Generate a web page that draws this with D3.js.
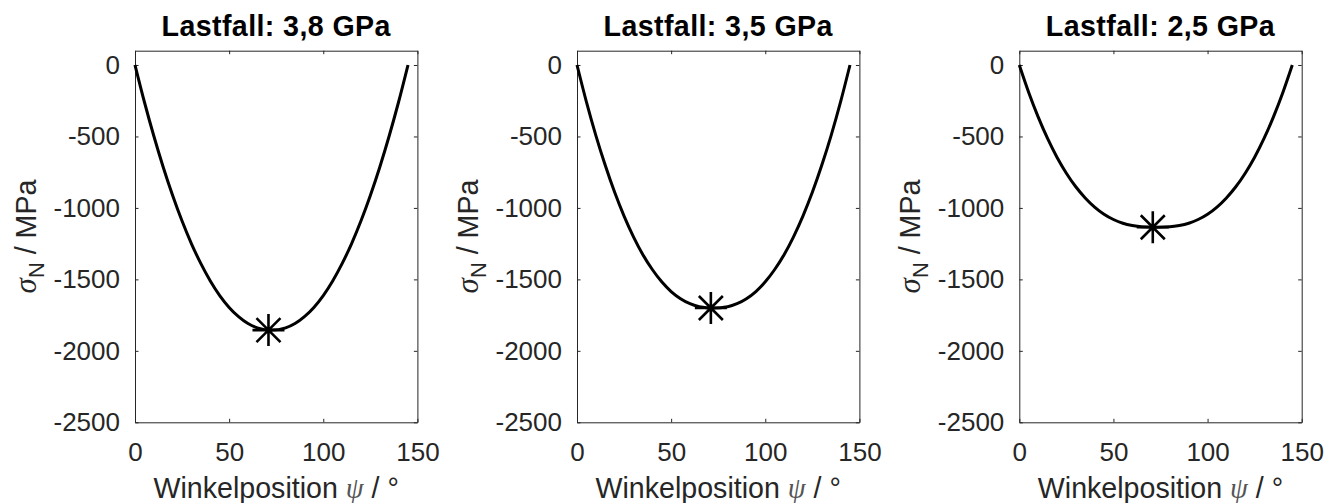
<!DOCTYPE html>
<meta charset="UTF-8">
<style>
  body { margin: 0; background: #fff; }
  text { font-family: "Liberation Sans", Arial, sans-serif; }
</style>
<svg width="1338" height="503"></svg>
<script src="https://cdn.jsdelivr.net/npm/d3@7"></script>
<script>

// load cases (panel titles)
var titles = ["Lastfall: 3,8 GPa", "Lastfall: 3,5 GPa", "Lastfall: 2,5 GPa"];

// angular position psi in deg (same grid for all three cases)
var psi = [0, 5, 10, 15, 20, 25, 30, 35, 40, 45, 50, 55, 60, 65, 72.5,
           80, 85, 90, 95, 100, 105, 110, 115, 120, 125, 130, 135, 140, 145];

// normal stress sigma_N in MPa
var sigma1 = [0, -259, -497, -715, -913, -1092, -1251, -1390, -1511, -1613, -1696, -1761, -1809, -1839, -1855,
              -1839, -1809, -1761, -1696, -1613, -1511, -1390, -1251, -1092, -913, -715, -497, -259, 0];
var sigma2 = [0, -258, -492, -702, -891, -1057, -1202, -1327, -1431, -1517, -1585, -1635, -1670, -1691, -1700,
              -1691, -1670, -1635, -1585, -1517, -1431, -1327, -1202, -1057, -891, -702, -492, -258, 0];
var sigma3 = [0, -192, -363, -514, -645, -757, -852, -930, -994, -1044, -1081, -1107, -1123, -1132, -1135,
              -1132, -1123, -1107, -1081, -1044, -994, -930, -852, -757, -645, -514, -363, -192, 0];

// minimum markers
var starPsi   = [70.9, 71.1, 70.9];
var starSigma = [-1855, -1700, -1135];

var xTicks = [0, 50, 100, 150];
var yTicks = [0, -500, -1000, -1500, -2000, -2500];

var panels = [
  {title: titles[0], sigma: sigma1},
  {title: titles[1], sigma: sigma2},
  {title: titles[2], sigma: sigma3}
];

var svg = d3.select("svg"),
    lefts = [135, 577, 1019.3],
    axTop = 50.7,
    w = 282.4,
    h = 371.6,
    axisColor = "#262626";

function plain(d) { return String(d); }   // keep "-2500", no unicode minus / comma

panels.forEach(function(p, i) {
  var g = svg.append("g").attr("transform", "translate(" + lefts[i] + "," + axTop + ")");

  var x = d3.scaleLinear().domain([0, 150]).range([0, w]);
  var y = d3.scaleLinear().domain([-2500, 100]).range([h, 0]);

  // box + inward ticks, matlab style
  var ax = g.append("g").attr("transform", "translate(0," + h + ")")
      .call(d3.axisBottom(x).tickValues(xTicks).tickFormat(plain).tickSizeInner(-3.5).tickSizeOuter(0).tickPadding(20));
  var ay = g.append("g")
      .call(d3.axisLeft(y).tickValues(yTicks).tickFormat(plain).tickSizeInner(-3.5).tickSizeOuter(0).tickPadding(15));
  g.append("g").call(d3.axisTop(x).tickValues(xTicks).tickSizeInner(-3.5).tickSizeOuter(0).tickFormat(""));
  g.append("g").attr("transform", "translate(" + w + ",0)")
      .call(d3.axisRight(y).tickValues(yTicks).tickSizeInner(-3.5).tickSizeOuter(0).tickFormat(""));

  g.selectAll(".domain, .tick line").attr("stroke", axisColor).attr("stroke-width", 1);
  g.selectAll(".tick text").attr("fill", axisColor).style("font-size", "26px")
      .style("font-family", "'Liberation Sans', Arial, sans-serif");
  ax.selectAll(".tick text").attr("dy", "0.71em");

  // curve
  var line = d3.line()
      .x(function(d, k) { return x(psi[k]); })
      .y(function(d) { return y(d); })
      .curve(d3.curveMonotoneX);
  g.append("path")
      .attr("d", line(p.sigma))
      .attr("fill", "none")
      .attr("stroke", "#000")
      .attr("stroke-width", 3);

  // star marker at the minimum
  var sx = x(starPsi[i]), sy = y(starSigma[i]), r = 16, rd = 12;
  g.append("path")
      .attr("d", "M" + (sx - r) + "," + sy + "H" + (sx + r) +
                 "M" + sx + "," + (sy - r) + "V" + (sy + r) +
                 "M" + (sx - rd) + "," + (sy - rd) + "L" + (sx + rd) + "," + (sy + rd) +
                 "M" + (sx - rd) + "," + (sy + rd) + "L" + (sx + rd) + "," + (sy - rd))
      .attr("stroke", "#000")
      .attr("stroke-width", 2.6)
      .attr("fill", "none");

  // title
  g.append("text")
      .attr("x", w / 2).attr("y", -15)
      .attr("text-anchor", "middle")
      .style("font-size", "28.6px").style("font-weight", "bold")
      .style("letter-spacing", "0.4px")
      .text(p.title);

  // x label
  var xl = g.append("text")
      .attr("x", w / 2).attr("y", h + 76)
      .attr("text-anchor", "middle")
      .attr("fill", axisColor)
      .style("font-size", "28.6px");
  xl.append("tspan").text("Winkelposition ");
  xl.append("tspan").style("font-family", "'Liberation Serif', serif").style("font-style", "italic").attr("fill", "#555").text("ψ");
  xl.append("tspan").text(" / °");

  // y label
  var yl = g.append("text")
      .attr("transform", "translate(-99," + (h / 2) + ") rotate(-90)")
      .attr("text-anchor", "middle")
      .attr("fill", axisColor)
      .style("font-size", "28.6px");
  yl.append("tspan").style("font-family", "'Liberation Serif', serif").style("font-style", "italic")
      .style("font-size", "31px").text("σ");
  yl.append("tspan").style("font-size", "22px").attr("dy", 8).text("N");
  yl.append("tspan").attr("dy", -8).text(" / MPa");
});

</script>
